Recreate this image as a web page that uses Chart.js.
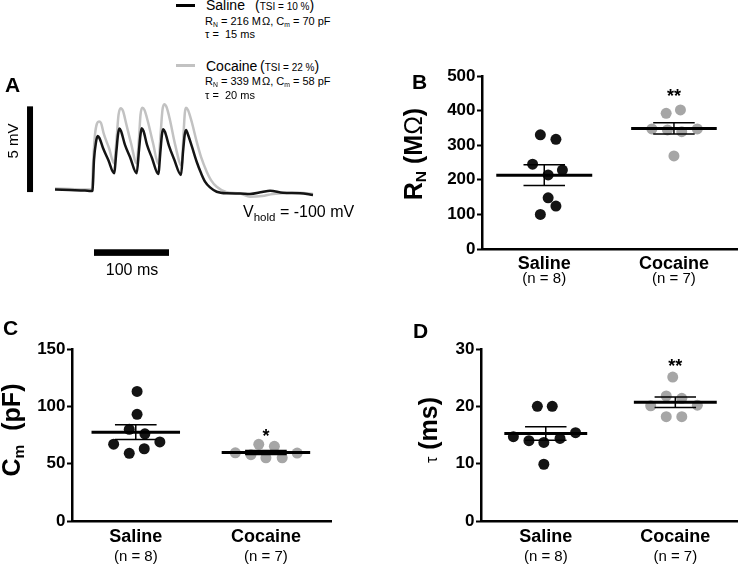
<!DOCTYPE html>
<html><head><meta charset="utf-8">
<script src="https://cdn.jsdelivr.net/npm/chart.js@4.4.0/dist/chart.umd.min.js"></script>
<style>
html,body{margin:0;padding:0;background:#fff}
body{width:743px;height:568px;position:relative;overflow:hidden;font-family:"Liberation Sans",Arial,sans-serif;color:#000}
canvas{position:absolute}
.t{position:absolute;white-space:nowrap;line-height:1}
.sub{font-size:0.62em;position:relative;top:0.28em}
.nb{font-weight:normal}
</style></head><body>
<canvas id="cA" width="330" height="190" style="left:0;top:95px"></canvas>
<canvas id="cB" width="363" height="240" style="left:380px;top:60px"></canvas>
<canvas id="cC" width="372" height="268" style="left:0;top:300px"></canvas>
<canvas id="cD" width="363" height="268" style="left:380px;top:300px"></canvas>
<div style="position:absolute;left:176px;top:4px;width:19px;height:2.5px;background:#000"></div>
<div style="position:absolute;left:176px;top:64px;width:19px;height:2.5px;background:#c2c2c2"></div>
<script>
// ---------------- data ----------------
const groups = ['Saline', 'Cocaine'];
const groupN = ['(n = 8)', '(n = 7)'];

// Panel A: example voltage traces (time in ms, voltage in mV relative to holding)
const salineT = [0,20,40,48,50,52,54.7,56.9,59.3,64,71.1,78.7,82,84,85.7,88,93.3,100,108.9,112,114,115.6,118,122.7,129.3,137.7,140.7,142.7,144.4,146.7,152,158.7,168,170.7,172.9,174.7,177.3,182.7,188.9,194.7,200,206.7,215.6,228.9,246.7,260,276,286.7,304,326.7,344];
const salineV = [0,-0.03,-0.06,-0.09,-0.06,1.72,2.77,3.12,3.0,2.42,1.72,0.95,2.30,3.21,3.56,3.41,2.60,1.90,0.95,2.30,3.21,3.57,3.41,2.60,1.84,0.90,2.30,3.24,3.51,3.35,2.54,1.78,0.85,2.19,3.18,3.47,3.21,2.48,1.62,0.96,0.46,0.12,-0.13,-0.22,-0.23,-0.26,-0.15,-0.07,-0.19,-0.22,-0.32];
const cocaineT = [0,20,40,49.3,50.7,53.3,56,58.7,61.3,65.3,72,78.7,82,84.7,87.6,90.7,94.7,101.3,108.9,112,114,116.4,119.3,124,130.7,137.7,140.7,143.3,145.7,148.7,153.3,160,168.9,171.3,173.1,174.7,177.3,182.7,188.9,194.7,202.3,208,215.6,228.9,246.7,260,276,290.7,326.7,344];
const cocaineV = [0.06,0.03,0,0,1.43,3.18,3.85,3.96,3.88,3.21,2.42,1.53,2.89,4.35,4.74,4.58,3.88,2.71,1.53,3.00,4.35,4.77,4.64,3.94,2.71,1.49,3.18,4.64,4.97,4.81,4.05,2.65,1.39,3.18,4.46,4.77,4.64,3.88,2.79,1.90,1.04,0.55,0.16,-0.16,-0.23,-0.42,-0.38,-0.26,-0.19,-0.26];
const scaleBarMV = 5;
const scaleBarMS = 100;

// Panel B: input resistance R_N (MOhm)
const salineRN = [330,317,245,228,214,148,124,100];
const salineRNJitter = [-0.03,0.09,-0.09,0.14,0.03,0.03,0.09,-0.03];
const cocaineRN = [392,402,347,344,339,347,269];
const cocaineRNJitter = [-0.06,0.05,-0.17,-0.05,0.06,0.18,0];

// Panel C: membrane capacitance C_m (pF)
const salineCm = [113,93,80,76,67,69,59,63];
const salineCmJitter = [0.01,0.01,-0.05,0.07,-0.17,0.185,-0.05,0.065];
const cocaineCm = [59.5,57.8,66.9,65.1,55.1,55.1,59.2];
const cocaineCmJitter = [-0.235,-0.115,-0.055,0.065,0,0.125,0.24];

// Panel D: membrane time constant tau (ms)
const salineTau = [20,20,14.7,14,13.7,14.4,15.4,9.9];
const salineTauJitter = [-0.065,0.05,-0.25,-0.13,-0.015,0.11,0.23,-0.015];
const cocaineTau = [25.1,21.8,21.4,20.1,20.2,18.2,18.2];
const cocaineTauJitter = [-0.02,-0.07,0.05,-0.19,0.17,-0.07,0.05];

// ---------------- styling ----------------
const FONT = '"Liberation Sans", Arial, Helvetica, sans-serif';
const BLACK = '#141414';
const GREY_DOT = '#a6a6a6';
const GREY_TRACE = '#c2c2c2';

function pts(vals, jit, g) { return vals.map((v, i) => ({ x: g + jit[i], y: v })); }

// ---------------- panel A ----------------
const scaleBarPlugin = {
  id: 'scaleBars',
  afterDatasetsDraw(chart, args, o) {
    const ctx = chart.ctx, xs = chart.scales.x, ys = chart.scales.y;
    ctx.save();
    ctx.fillStyle = '#000';
    // vertical bar (mV)
    const vx = xs.getPixelForValue(o.vAt.t);
    const vy0 = ys.getPixelForValue(o.vAt.v), vy1 = ys.getPixelForValue(o.vAt.v + scaleBarMV);
    ctx.fillRect(vx - 3, vy1, 6, vy0 - vy1);
    // horizontal bar (ms)
    const hx0 = xs.getPixelForValue(o.hAt.t), hx1 = xs.getPixelForValue(o.hAt.t + scaleBarMS);
    const hy = ys.getPixelForValue(o.hAt.v);
    ctx.fillRect(hx0, hy - 3.3, hx1 - hx0, 6.6);
    ctx.restore();
  }
};

new Chart(document.getElementById('cA'), {
  type: 'line',
  data: {
    datasets: [
      { label: 'Saline', data: salineT.map((t, i) => ({ x: t, y: salineV[i] })), borderColor: BLACK, borderWidth: 2.5, pointRadius: 0, cubicInterpolationMode: 'monotone', fill: false },
      { label: 'Cocaine', data: cocaineT.map((t, i) => ({ x: t, y: cocaineV[i] })), borderColor: GREY_TRACE, borderWidth: 2.5, pointRadius: 0, cubicInterpolationMode: 'monotone', fill: false }
    ]
  },
  options: {
    responsive: false, animation: false, events: [], devicePixelRatio: 1,
    layout: { padding: 0 },
    scales: {
      x: { type: 'linear', display: false, min: -73.33, max: 366.67 },
      y: { type: 'linear', display: false, min: -5.572, max: 5.513 }
    },
    plugins: {
      legend: { display: false }, tooltip: { enabled: false },
      scaleBars: { vAt: { t: -33.3, v: -0.15 }, hAt: { t: 52, v: -3.68 } }
    }
  },
  plugins: [scaleBarPlugin]
});

// ---------------- dot panels ----------------
const statsPlugin = {
  id: 'stats',
  afterDatasetsDraw(chart, args, o) {
    const ctx = chart.ctx, xs = chart.scales.x, ys = chart.scales.y;
    ctx.save();
    ctx.strokeStyle = '#000';
    chart.data.datasets.forEach((ds, g) => {
      const vals = ds.data.map(p => p.y);
      const n = vals.length;
      const m = vals.reduce((a, b) => a + b, 0) / n;
      const sd = Math.sqrt(vals.reduce((a, b) => a + (b - m) * (b - m), 0) / (n - 1));
      const se = sd / Math.sqrt(n);
      const yM = ys.getPixelForValue(m), yT = ys.getPixelForValue(m + se), yB = ys.getPixelForValue(m - se);
      const xc = xs.getPixelForValue(g);
      const cl = xs.getPixelForValue(g - o.capHalf), cr = xs.getPixelForValue(g + o.capHalf);
      ctx.lineWidth = 1.5;
      ctx.beginPath();
      ctx.moveTo(xc, yT); ctx.lineTo(xc, yB);
      ctx.moveTo(cl, yT); ctx.lineTo(cr, yT);
      ctx.moveTo(cl, yB); ctx.lineTo(cr, yB);
      ctx.stroke();
      ctx.lineWidth = 3;
      ctx.beginPath();
      ctx.moveTo(xs.getPixelForValue(g - o.meanHalf[g]), yM);
      ctx.lineTo(xs.getPixelForValue(g + o.meanHalf[g]), yM);
      ctx.stroke();
    });
    ctx.fillStyle = '#000';
    ctx.font = 'bold 18px ' + FONT;
    ctx.textAlign = 'center';
    ctx.textBaseline = 'alphabetic';
    ctx.fillText(o.star, xs.getPixelForValue(1), ys.getPixelForValue(o.starY));
    ctx.restore();
  }
};

function dotPanel(id, p) {
  const xTicks = axis => { axis.ticks = [{ value: 0 }, { value: 1 }]; };
  new Chart(document.getElementById(id), {
    type: 'scatter',
    data: {
      datasets: [
        { data: pts(p.sal, p.salJ, 0), backgroundColor: BLACK, borderWidth: 0, pointRadius: 5.5 },
        { data: pts(p.coc, p.cocJ, 1), backgroundColor: GREY_DOT, borderWidth: 0, pointRadius: 5.5 }
      ]
    },
    options: {
      responsive: false, animation: false, events: [], devicePixelRatio: 1,
      layout: { padding: { top: p.padTop, right: p.padRight, left: 0, bottom: 0 } },
      scales: {
        x: {
          type: 'linear', position: 'bottom', weight: 0, min: p.xMin, max: p.xMax,
          afterBuildTicks: xTicks,
          afterFit: s => { s.height = p.x1H; },
          grid: { display: false, drawTicks: false },
          border: { display: true, color: '#000', width: 2.5 },
          ticks: { autoSkip: false, maxRotation: 0, padding: p.x1Pad, color: '#000',
                   font: { family: FONT, size: 18, weight: 'bold' },
                   callback: (v, i) => groups[i] }
        },
        x2: {
          type: 'linear', position: 'bottom', weight: 1, min: p.xMin, max: p.xMax,
          afterBuildTicks: xTicks,
          afterFit: s => { s.height = p.x2H; },
          grid: { display: false, drawTicks: false },
          border: { display: false },
          ticks: { autoSkip: false, maxRotation: 0, padding: p.x2Pad, color: '#000',
                   font: { family: FONT, size: 15, weight: 'normal' },
                   callback: (v, i) => groupN[i] }
        },
        y: {
          type: 'linear', position: 'left', min: 0, max: p.yMax,
          afterFit: s => { s.width = p.yW; },
          grid: { display: true, drawOnChartArea: false, drawTicks: true, tickLength: 5, tickWidth: 2, tickColor: '#000' },
          border: { display: true, color: '#000', width: 2.5 },
          ticks: { stepSize: p.yStep, padding: 1.5, color: '#000', font: { family: FONT, size: 17, weight: 'bold' } }
        }
      },
      plugins: {
        legend: { display: false }, tooltip: { enabled: false },
        stats: { meanHalf: p.meanHalf, capHalf: 0.16, star: p.star, starY: p.starY }
      }
    },
    plugins: [statsPlugin]
  });
}

dotPanel('cB', { sal: salineRN, salJ: salineRNJitter, coc: cocaineRN, cocJ: cocaineRNJitter,
  yMax: 500, yStep: 100, xMin: -0.48, xMax: 1.49, yW: 102, padTop: 16, padRight: 1,
  x1H: 21, x2H: 30, x1Pad: 4, x2Pad: 0, meanHalf: [0.37, 0.33], star: '**', starY: 425 });
dotPanel('cC', { sal: salineCm, salJ: salineCmJitter, coc: cocaineCm, cocJ: cocaineCmJitter,
  yMax: 150, yStep: 50, xMin: -0.49, xMax: 1.5, yW: 72, padTop: 49, padRight: 41,
  x1H: 26, x2H: 21, x1Pad: 5.5, x2Pad: 0.7, meanHalf: [0.34, 0.34], star: '*', starY: 68.5 });
dotPanel('cD', { sal: salineTau, salJ: salineTauJitter, coc: cocaineTau, cocJ: cocaineTauJitter,
  yMax: 30, yStep: 10, xMin: -0.5, xMax: 1.48, yW: 101, padTop: 49, padRight: 5,
  x1H: 26, x2H: 21, x1Pad: 5.5, x2Pad: 0.7, meanHalf: [0.32, 0.32], star: '**', starY: 26 });

// ---------------- text annotations ----------------
function addText(html, x, base, size, o = {}) {
  const d = document.createElement('div');
  d.className = 't';
  d.innerHTML = html;
  d.style.fontSize = size + 'px';
  if (o.bold) d.style.fontWeight = 'bold';
  if (o.rotate) {
    d.style.left = (x - 0.3465 * size) + 'px';
    d.style.top = base + 'px';
    d.style.transform = 'translate(-50%,-50%) rotate(-90deg)';
  } else {
    d.style.left = x + 'px';
    d.style.top = (base - 0.8465 * size) + 'px';
    if (o.align === 'center') d.style.transform = 'translateX(-50%)';
  }
  document.body.appendChild(d);
}
// legend of panel A
addText('Saline', 206, 10, 14);
addText('(<span style="font-size:10px">TSI = 10 %</span>)', 255, 10, 14);
addText('R<span class="sub">N</span> = 216 M&#8202;Ω, C<span class="sub">m</span> = 70 pF', 205, 25, 11);
addText('τ = &nbsp;15 ms', 205, 38, 11);
addText('Cocaine', 206, 71, 14);
addText('(<span style="font-size:10px">TSI = 22 %</span>)', 260, 71, 14);
addText('R<span class="sub">N</span> = 339 M&#8202;Ω, C<span class="sub">m</span> = 58 pF', 205, 85, 11);
addText('τ = &nbsp;20 ms', 205, 99, 11);
// scale-bar labels
addText('5 mV', 17, 141, 15, { rotate: true });
addText('100 ms', 132, 276, 16, { align: 'center' });
addText('V<span class="sub" style="font-size:0.72em">hold</span> = -100 mV', 243, 218, 16);
// panel letters
addText('A', 5, 92, 21, { bold: true });
addText('B', 412, 89, 21, { bold: true });
addText('C', 3, 335, 21, { bold: true });
addText('D', 413, 338, 21, { bold: true });
// axis titles
addText('R<span class="sub">N</span> (M<span class="nb">Ω</span>)', 422, 154, 25, { rotate: true, bold: true });
addText('C<span class="sub">m</span>&nbsp; (pF)', 20, 430, 25, { rotate: true, bold: true });
addText('<span class="nb" style="font-size:16px">τ</span> (ms)', 437, 430, 25, { rotate: true, bold: true });
</script>
</body></html>
